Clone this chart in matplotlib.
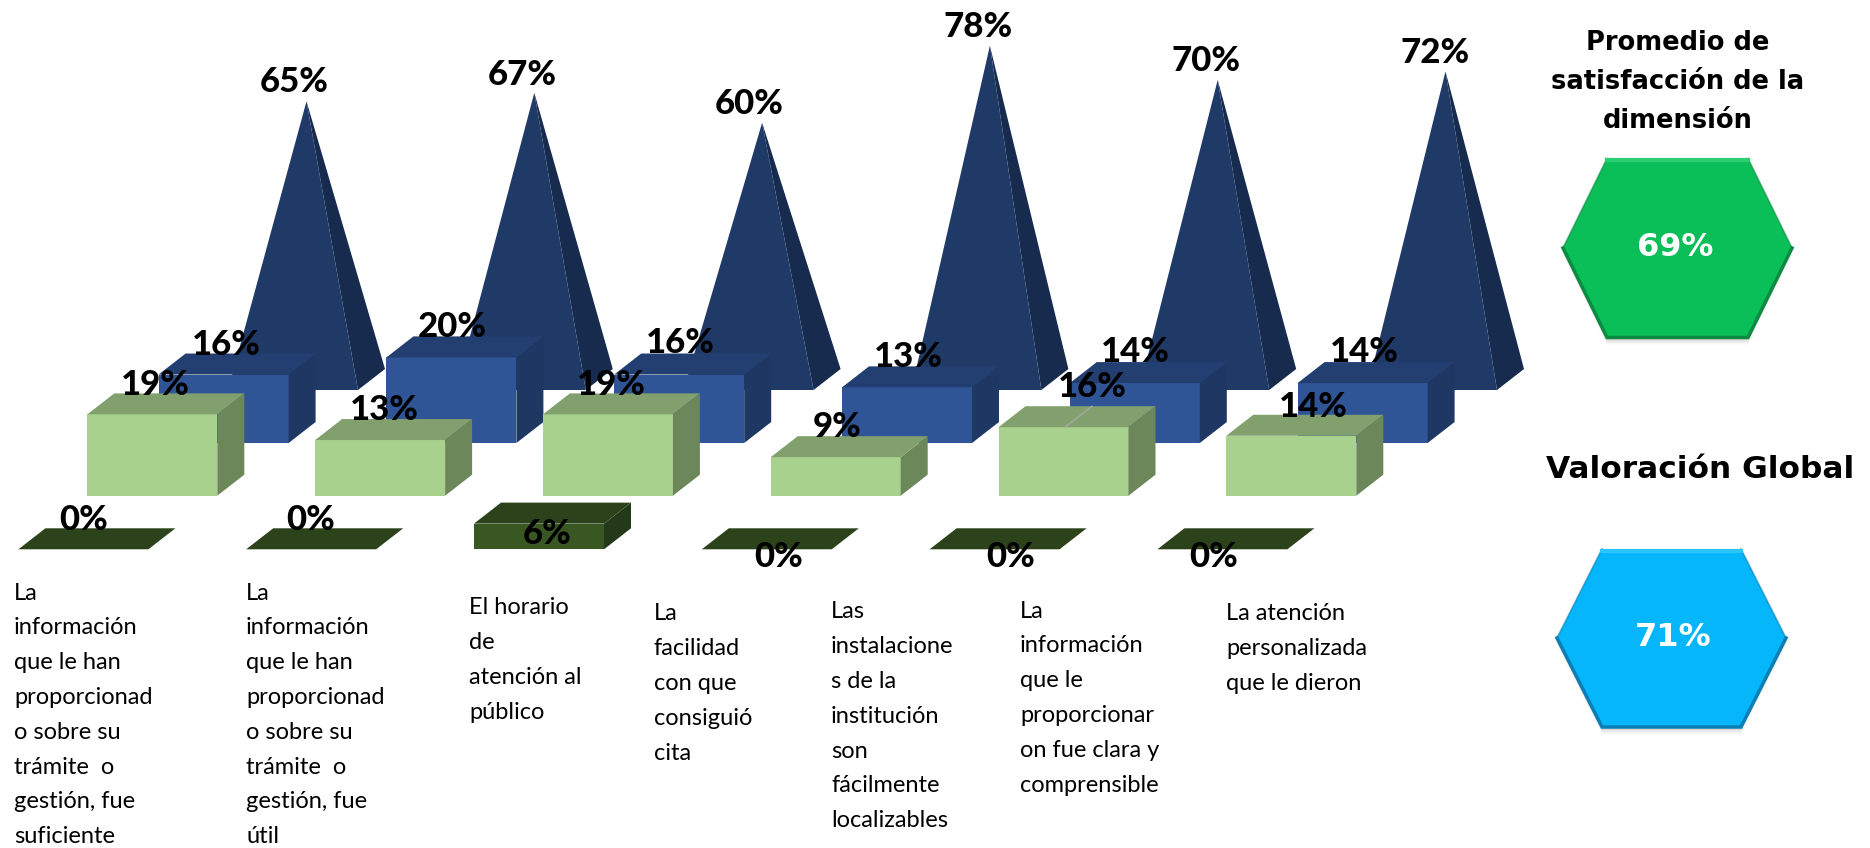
import matplotlib
matplotlib.use("Agg")
import matplotlib.pyplot as plt
from matplotlib.patches import Polygon

# Data
pyramid_vals = [65, 67, 60, 78, 70, 72]
blue_vals = [16, 20, 16, 13, 14, 14]
light_vals = [19, 13, 19, 9, 16, 14]
dark_vals = [0, 0, 6, 0, 0, 0]
promedio = 69
global_val = 71

categories = [
    ["La", "información", "que le han", "proporcionad", "o sobre su", "trámite  o", "gestión, fue", "suficiente"],
    ["La", "información", "que le han", "proporcionad", "o sobre su", "trámite  o", "gestión, fue", "útil"],
    ["El horario", "de", "atención al", "público"],
    ["La", "facilidad", "con que", "consiguió", "cita"],
    ["Las", "instalacione", "s de la", "institución", "son", "fácilmente", "localizables"],
    ["La", "información", "que le", "proporcionar", "on fue clara y", "comprensible"],
    ["La atención", "personalizada", "que le dieron"],
]

# Layout, in pixels of the 1870x848 figure
px = 4.28          # pixels per percent
step = 227.8       # distance between groups
w = 130
dx, dy = 27, 21
pyr_x, pyr_base = 228, 390
blue_x, blue_base = 158.6, 443
light_x, light_base = 87.3, 495.7
dark_x, dark_base = 18.4, 549.3

pyr_labels = [(294, 82), (522, 75), (749, 104), (978, 27), (1206, 61), (1435, 53)]
blue_labels = [(226, 345), (452, 327), (680, 343), (908, 357), (1135, 352), (1364, 352)]
light_labels = [(155, 385), (384, 410), (611, 385), (837, 427), (1092, 387), (1313, 407)]
dark_labels = [(84, 520), (311, 520), (547, 534), (779, 557), (1011, 557), (1214, 557)]

cat_x = [14, 246, 469, 654, 831, 1020, 1226]
cat_y = [593, 593, 608, 614, 612, 611, 614]
line_h = 34.8

plt.rcParams['font.family'] = ['Lato', 'DejaVu Sans']

fig = plt.figure(figsize=(18.7, 8.48), dpi=100)
ax = fig.add_axes([0, 0, 1, 1])
ax.set_xlim(0, 1870)
ax.set_ylim(848, 0)
ax.axis("off")


def draw_box(x, base, val, front, top, side):
    h = val * px
    if h > 0:
        ax.add_patch(Polygon([(x, base), (x + w, base), (x + w, base - h), (x, base - h)], fc=front, ec="none"))
        ax.add_patch(Polygon([(x + w, base), (x + w + dx, base - dy), (x + w + dx, base - h - dy), (x + w, base - h)],
                             fc=side, ec="none"))
    ax.add_patch(Polygon([(x, base - h), (x + w, base - h), (x + w + dx, base - h - dy), (x + dx, base - h - dy)],
                         fc=top, ec="none"))


def draw_pyramid(x, base, val):
    apex = (x + w / 2 + dx / 2, base - dy / 2 - val * px)
    ax.add_patch(Polygon([(x + w, base), (x + w + dx, base - dy), apex], fc="#172B4F", ec="none"))
    ax.add_patch(Polygon([(x, base), (x + w, base), apex], fc="#203A68", ec="none"))


def draw_hex(x0, x1, inset, y0, y1, fill, edge, light):
    ym = (y0 + y1) / 2
    pts = [(x0, ym), (x0 + inset, y0), (x1 - inset, y0), (x1, ym), (x1 - inset, y1), (x0 + inset, y1)]
    # soft shadow
    for off, a in [(7, 0.05), (5, 0.08), (3, 0.12)]:
        ax.add_patch(Polygon([(p[0], p[1] + off) for p in pts], fc="#555555", ec="none", alpha=a))
    ax.add_patch(Polygon(pts, fc=fill, ec="none"))
    # bevel: darker lower edges, lighter top edge
    ax.plot([x0, x0 + inset, x1 - inset, x1], [ym, y1, y1, ym], color=edge, lw=2.5, solid_joinstyle="miter")
    ax.plot([x0, x0 + inset], [ym, y0], color=edge, lw=1.2, alpha=0.6)
    ax.plot([x1 - inset, x1], [y0, ym], color=edge, lw=1.2, alpha=0.6)
    ax.plot([x0 + inset, x1 - inset], [y0 + 1.5, y0 + 1.5], color=light, lw=3)


# back to front, same as the original depth order
for i in range(6):
    draw_pyramid(pyr_x + i * step, pyr_base, pyramid_vals[i])
for i in range(6):
    draw_box(blue_x + i * step, blue_base, blue_vals[i], "#2F5597", "#233E70", "#1F3763")
for i in range(6):
    draw_box(light_x + i * step, light_base, light_vals[i], "#A9D18E", "#82A06E", "#6C8759")
for i in range(6):
    draw_box(dark_x + i * step, dark_base, dark_vals[i], "#385723", "#2B421B", "#24381A")

# thin seam on the top of the fifth light box
seam_x = light_x + 4 * step + 66.5
seam_y = light_base - light_vals[4] * px
ax.plot([seam_x, seam_x + dx], [seam_y, seam_y - dy], color="#A8A8A8", lw=1)

# value labels
for vals, pos in [(pyramid_vals, pyr_labels), (blue_vals, blue_labels), (light_vals, light_labels), (dark_vals, dark_labels)]:
    for v, (x, y) in zip(vals, pos):
        ax.text(x, y, f"{v}%", fontsize=25, fontweight="black", ha="center", va="center", color="black")

# category labels
for lines, x, y in zip(categories, cat_x, cat_y):
    for j, line in enumerate(lines):
        ax.text(x, y + j * line_h, line, fontsize=17, ha="left", va="center", color="black")

# right side panel
for y, t in zip([43, 82, 121], ["Promedio de", "satisfacción de la", "dimensión"]):
    ax.text(1678, y, t, fontsize=18.5, fontweight="bold", ha="center", va="center", family=["DejaVu Sans"])
ax.text(1700, 470, "Valoración Global", fontsize=22.5, fontweight="bold", ha="center", va="center",
        family=["DejaVu Sans"])

draw_hex(1563, 1792, 44, 158.5, 337.5, "#0ABF58", "#0B8A42", "#2BCF72")
draw_hex(1557, 1786, 45, 549, 727, "#06B6FB", "#0A7FB5", "#2CC4FC")
ax.text(1675, 248, f"{promedio}%", fontsize=23, fontweight="bold", color="white", ha="center", va="center",
        family=["DejaVu Sans"])
ax.text(1673, 637, f"{global_val}%", fontsize=23, fontweight="bold", color="white", ha="center", va="center",
        family=["DejaVu Sans"])

fig.savefig("out.png", dpi=100)
